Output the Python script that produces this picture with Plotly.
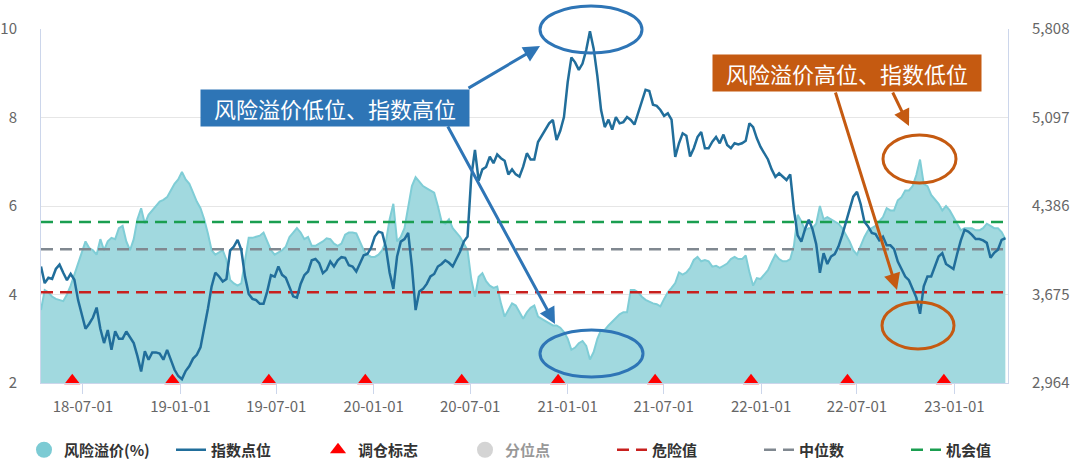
import pandas as pd
import plotly.graph_objects as go

# ---------------- data ----------------
dates = pd.date_range("2018-04-13", periods=261, freq="7D")

risk_premium = [
    3.65, 4.1, 4.05, 3.95, 3.9, 3.88, 3.85, 4.0, 4.2, 4.45,
    4.7, 5.0, 5.2, 5.05, 5.0, 4.9, 5.25, 5.0, 5.2, 5.28,
    5.25, 5.5, 5.55, 5.2, 5.0, 5.25, 5.7, 5.95, 5.6, 5.8,
    5.9, 6.0, 6.1, 6.14, 6.2, 6.35, 6.5, 6.6, 6.77, 6.6,
    6.5, 6.3, 6.1, 5.95, 5.7, 5.38, 5.0, 4.9, 4.95, 5.0,
    4.78, 4.33, 4.25, 4.2, 4.25, 4.8, 5.28, 5.28, 5.3, 5.33,
    5.4, 5.2, 5.0, 4.9, 4.95, 5.0, 5.08, 5.3, 5.4, 5.5,
    5.4, 5.25, 5.3, 5.1, 5.1, 5.15, 5.2, 5.27, 5.25, 5.15,
    5.1, 5.15, 5.35, 5.4, 5.4, 5.38, 5.2, 5.0, 4.9, 4.85,
    4.85, 4.9, 5.0, 5.2, 5.7, 6.05, 5.2, 5.3, 5.5, 6.0,
    6.45, 6.65, 6.55, 6.45, 6.4, 6.35, 6.3, 6.0, 5.65, 5.6,
    5.7, 5.5, 5.4, 5.3, 5.15, 5.0, 4.35, 3.95, 4.4, 4.48,
    4.3, 4.2, 4.15, 4.18, 3.8, 3.5, 3.65, 3.8, 3.75, 3.6,
    3.45, 3.6, 3.7, 3.75, 3.5, 3.45, 3.4, 3.35, 3.3, 3.3,
    3.25, 3.15, 3.0, 2.75, 2.8, 2.9, 2.95, 2.84, 2.53, 2.7,
    3.0, 3.2, 3.2, 3.3, 3.38, 3.45, 3.55, 3.6, 3.6, 4.1,
    4.1, 4.05, 3.95, 3.88, 3.84, 3.8, 3.78, 3.73, 3.9, 4.05,
    4.15, 4.26, 4.5, 4.45, 4.5, 4.6, 4.78, 4.85, 4.75, 4.78,
    4.75, 4.63, 4.65, 4.6, 4.65, 4.7, 4.8, 4.85, 4.8, 4.8,
    4.88, 4.5, 4.2, 4.37, 4.35, 4.45, 4.55, 4.73, 4.9, 4.8,
    4.75, 4.75, 4.8, 5.1, 5.8, 5.65, 5.45, 5.5, 5.5, 5.6,
    6.0, 5.7, 5.75, 5.7, 5.65, 5.6, 5.5, 5.35, 5.2, 5.0,
    4.9, 5.1, 5.3, 5.45, 5.5, 5.55, 5.65, 5.75, 5.95, 5.9,
    5.9, 6.13, 6.2, 6.35, 6.35, 6.45, 6.7, 7.05, 6.5, 6.45,
    6.25, 6.15, 6.05, 5.9, 6.0, 5.9, 5.75, 5.6, 5.45, 5.5,
    5.5, 5.5, 5.45, 5.45, 5.5, 5.6, 5.55, 5.5, 5.5, 5.41,
    5.25,
]

index_level = [
    3900, 3766, 3810, 3800, 3880, 3915, 3850, 3790, 3840, 3793,
    3630, 3510, 3400, 3440, 3490, 3570, 3400, 3285, 3390, 3231,
    3380, 3320, 3320, 3378, 3330, 3285, 3180, 3057, 3220, 3151,
    3210, 3210, 3200, 3151, 3230, 3150, 3070, 3020, 2995, 3060,
    3100, 3160, 3190, 3250, 3400, 3560, 3740, 3850, 3820, 3780,
    3800, 4030, 4060, 4114, 4034, 3819, 3680, 3640, 3630, 3600,
    3600, 3700, 3830, 3819, 3900, 3833, 3810, 3740, 3660, 3650,
    3760, 3830, 3860, 3950, 3960, 3927, 3847, 3873, 3940, 3900,
    3950, 3975, 3970, 3910, 3900, 3860, 3920, 3990, 4000, 4050,
    4140, 4180, 4170, 4050, 3850, 3720, 3980, 4100, 4120, 4170,
    3900, 3550, 3700, 3720, 3760, 3820, 3840, 3900, 3920, 3950,
    3930, 3900, 3960, 4020, 4100, 4140, 4620, 4836, 4590, 4680,
    4700, 4783, 4730, 4800, 4770, 4750, 4640, 4680, 4640, 4622,
    4702, 4810, 4760, 4760, 4900, 4950, 4990, 5050, 5077, 4916,
    4990, 5100, 5380, 5580, 5540, 5480, 5530, 5639, 5790, 5650,
    5430, 5157, 5020, 5080, 5000, 5100, 5050, 5060, 5100, 5077,
    5040, 5131, 5220, 5320, 5310, 5200, 5190, 5157, 5110, 5131,
    5080, 4780, 4890, 4970, 4950, 4783, 4850, 4940, 4980, 4850,
    4850, 4903, 4940, 4890, 4960, 4876, 4850, 4890, 4880, 4890,
    4910, 5050, 5020, 4930, 4860, 4810, 4760, 4680, 4620, 4649,
    4620, 4595, 4640, 4355, 4150, 4100, 4200, 4275, 4200, 4080,
    3850, 4007, 3920, 3980, 4000, 4060, 4150, 4260, 4350, 4461,
    4500, 4400, 4260, 4221, 4170, 4160, 4110, 4140, 4070, 4070,
    4040, 3940, 3880, 3819, 3790, 3720, 3650, 3520, 3740, 3820,
    3820, 3900, 3980, 4007, 3920, 3900, 3880, 4000, 4110, 4194,
    4180, 4154, 4120, 4120, 4110, 4090, 3970, 4010, 4034, 4114,
    4127,
]

rebalance_dates = [
    "2018-06-11", "2018-12-17", "2019-06-17", "2019-12-16", "2020-06-15",
    "2020-12-14", "2021-06-15", "2021-12-13", "2022-06-13", "2022-12-12",
]
rebalance_level = [2.05] * len(rebalance_dates)

danger_value = 4.05
median_value = 5.02
opportunity_value = 5.64

x_tick_dates = ["2018-07-01", "2019-01-01", "2019-07-01", "2020-01-01", "2020-07-01",
                "2021-01-01", "2021-07-01", "2022-01-01", "2022-07-01", "2023-01-01"]
x_tick_labels = ["18-07-01", "19-01-01", "19-07-01", "20-01-01", "20-07-01",
                 "21-01-01", "21-07-01", "22-01-01", "22-07-01", "23-01-01"]
right_ticks = [2964, 3675, 4386, 5097, 5808]

# ---------------- style ----------------
FONT = "Noto Sans CJK SC"
TEAL_FILL = "#a1d9df"
TEAL_LINE = "#7fcdd6"
INDEX_BLUE = "#216e9b"
BLUE = "#2e75b6"
ORANGE = "#c55a11"

fig = go.Figure()

fig.add_trace(go.Scatter(
    x=dates, y=risk_premium, mode="lines", fill="tozeroy",
    line=dict(color=TEAL_LINE, width=2), fillcolor=TEAL_FILL,
    name="风险溢价(%)", showlegend=False, hoverinfo="skip",
))
fig.add_trace(go.Scatter(
    x=[None], y=[None], mode="markers", name="风险溢价(%)",
    marker=dict(color="#7ccbd4", size=16, symbol="circle"),
    legend="legend", legendrank=1,
))
fig.add_trace(go.Scatter(
    x=dates, y=index_level, mode="lines", yaxis="y2", name="指数点位",
    line=dict(color=INDEX_BLUE, width=2.5), legend="legend", legendrank=2,
))
fig.add_trace(go.Scatter(
    x=rebalance_dates, y=rebalance_level, mode="markers", name="调仓标志",
    marker=dict(symbol="triangle-up", size=14, color="#ff0000"),
    cliponaxis=False, legend="legend", legendrank=3,
))
fig.add_trace(go.Scatter(
    x=[None], y=[None], mode="markers", name="分位点", visible="legendonly",
    marker=dict(color="#aaaaaa", size=16), legend="legend", legendrank=4,
))
x_span = [dates[0], dates[-1]]
for name, val, col, rank in [("危险值", danger_value, "#c8201e", 5),
                             ("中位数", median_value, "#808890", 6),
                             ("机会值", opportunity_value, "#1a9e50", 7)]:
    fig.add_trace(go.Scatter(
        x=x_span, y=[val, val], mode="lines", name=name,
        line=dict(color=col, width=2.5, dash="12px,7px"),
        legend="legend2", legendrank=rank,
    ))

# ---------------- geometry ----------------
W, H = 1080, 466
L, T = 41, 29
PW, PH = 967, 354
R = W - L - PW
B = H - T - PH

def px(sx):
    return (sx - L) / PW

def py(sy):
    return (H - B - sy) / PH

ellipses = [
    (540, 6, 642, 53, BLUE),
    (540, 330, 643, 377, BLUE),
    (883, 135, 956, 183, ORANGE),
    (882, 302, 954, 349, ORANGE),
]
for x0, y0, x1, y1, c in ellipses:
    fig.add_shape(type="circle", xref="paper", yref="paper",
                  x0=px(x0), x1=px(x1), y0=py(y1), y1=py(y0),
                  line=dict(color=c, width=3))

arrows = [
    (540, 46, 467, 89, BLUE),
    (555, 324, 447, 125, BLUE),
    (909, 126, 892, 91, ORANGE),
    (897, 290, 835, 91, ORANGE),
]
annotations = []
for hx, hy, tx, ty, c in arrows:
    annotations.append(dict(
        xref="paper", yref="paper", x=px(hx), y=py(hy), text="",
        showarrow=True, axref="pixel", ayref="pixel", ax=tx - hx, ay=ty - hy,
        arrowhead=2, arrowsize=1.1, arrowwidth=3, arrowcolor=c, standoff=0,
    ))

annotations.append(dict(
    xref="paper", yref="paper", x=px(335), y=py(108), text="风险溢价低位、指数高位",
    showarrow=False, bgcolor=BLUE, width=268, height=36, borderpad=0,
    font=dict(family=FONT, size=22, color="white"), xanchor="center", yanchor="middle",
))
annotations.append(dict(
    xref="paper", yref="paper", x=px(847), y=py(73), text="风险溢价高位、指数低位",
    showarrow=False, bgcolor=ORANGE, width=268, height=36, borderpad=0,
    font=dict(family=FONT, size=22, color="white"), xanchor="center", yanchor="middle",
))

tick_font = dict(family=FONT, size=15, color="#666666")
axis_line = "#ccd6eb"
legend_font = dict(family=FONT, size=15, color="#333333", weight="bold")

fig.update_layout(
    width=W, height=H, autosize=False,
    margin=dict(l=L, r=R, t=T, b=B, autoexpand=False),
    plot_bgcolor="white", paper_bgcolor="white",
    font=dict(family=FONT),
    xaxis=dict(
        type="date", range=["2018-04-13", "2023-04-12"],
        tickvals=x_tick_dates, ticktext=x_tick_labels,
        showgrid=False, showline=True, linecolor=axis_line, linewidth=1,
        ticks="outside", ticklen=10, tickcolor=axis_line, tickfont=tick_font,
        zeroline=False, automargin=False,
    ),
    yaxis=dict(
        range=[2, 10], tickvals=[2, 4, 6, 8, 10], showgrid=True, gridcolor="#e6e6e6",
        showline=True, linecolor=axis_line, zeroline=False, tickfont=tick_font,
        ticklabelstandoff=20, automargin=False,
    ),
    yaxis2=dict(
        range=[right_ticks[0], right_ticks[-1]], tickvals=right_ticks,
        ticktext=[f"{v:,}" for v in right_ticks],
        overlaying="y", side="right", showgrid=False, zeroline=False,
        showline=True, linecolor=axis_line, tickfont=tick_font,
        ticklabelstandoff=20, automargin=False,
    ),
    legend=dict(
        orientation="h", x=px(24), xanchor="left", y=py(450), yanchor="middle",
        font=legend_font, entrywidth=102, entrywidthmode="pixels",
        traceorder="normal", bgcolor="rgba(0,0,0,0)",
    ),
    legend2=dict(
        orientation="h", x=px(612), xanchor="left", y=py(450), yanchor="middle",
        font=legend_font, entrywidth=102, entrywidthmode="pixels",
        traceorder="normal", bgcolor="rgba(0,0,0,0)",
    ),
    annotations=annotations,
    hovermode=False,
)

# remove the browser's default 8px page margin so the figure fills the window exactly
fig.write_html(
    "out.html",
    config={"displayModeBar": False},
    post_script="document.body.style.margin='0px';",
)
